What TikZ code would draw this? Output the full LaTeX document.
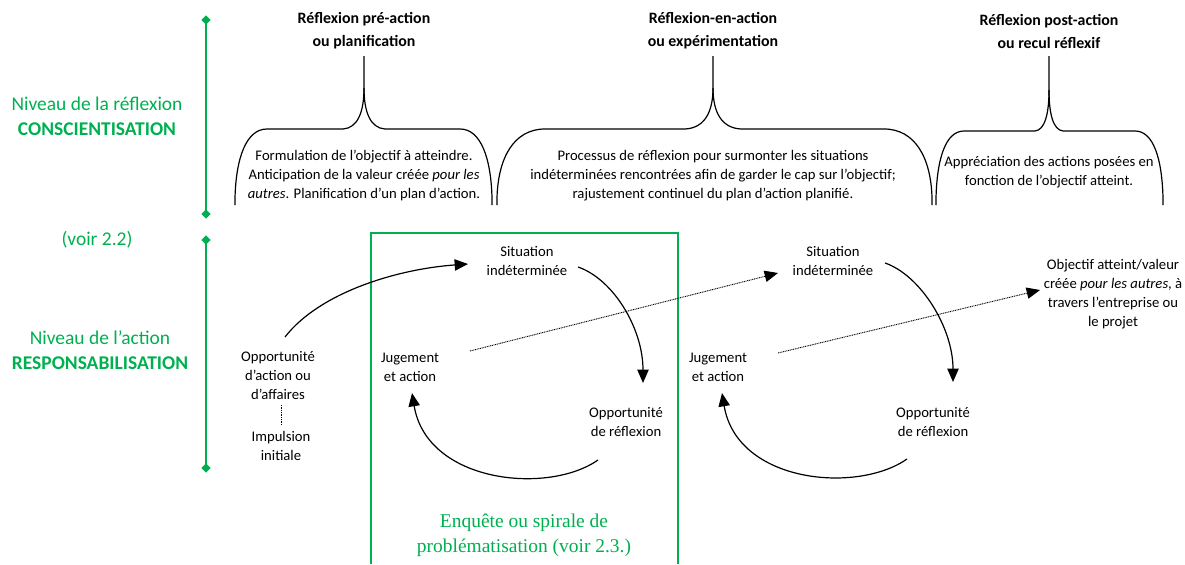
\documentclass[tikz,border=0pt]{standalone}
\usepackage{fontspec}
\setmainfont{Carlito}
\newfontfamily\captionserif{Liberation Serif}
\usetikzlibrary{arrows.meta,shapes.geometric,calc}
\definecolor{levelgreen}{HTML}{00B050}

% Upward curly brace: left x, tip x, right x, corner width, tip half width, bar y
\newcommand\upbrace[6]{%
  \draw[bracestroke] (#1,205) -- (#1,198) .. controls ({#1+1},158) and ({#1+0.35*#4},#6) .. ({#1+#4},#6)
     -- ({#2-#5},#6) .. controls ({#2-0.3*#5},{#6-1}) and (#2,{#6-17}) .. (#2,{#6-41}) -- (#2,56);
  \draw[bracestroke] (#3,205) -- (#3,198) .. controls ({#3-1},158) and ({#3-0.35*#4},#6) .. ({#3-#4},#6)
     -- ({#2+#5},#6) .. controls ({#2+0.3*#5},{#6-1}) and (#2,{#6-17}) .. (#2,{#6-41});
}

\begin{document}
\begin{tikzpicture}[x=0.75pt,y=-0.75pt,
  txt/.style={align=center,inner sep=0pt,font=\fontsize{11}{14.25}\selectfont},
  head/.style={align=center,inner sep=0pt,font=\bfseries\fontsize{11.9}{17.25}\selectfont},
  lvl/.style={align=center,inner sep=0pt,text=levelgreen,font=\fontsize{14.6}{18.75}\selectfont},
  gmark/.style={diamond,fill=levelgreen,inner sep=0pt,minimum size=7pt},
  gline/.style={draw=levelgreen,line width=1.2pt},
  bracestroke/.style={line width=0.9pt},
  flow/.style={line width=0.9pt,-{Triangle[length=10pt,width=8.5pt]}},
  link/.style={line width=0.7pt,dash pattern=on 0.7pt off 0.6pt,-{Triangle[length=10pt,width=8.5pt]}},
]
\useasboundingbox (0,0) rectangle (1185,564);

% level axis
\draw[gline] (206,20) -- (206,214);
\draw[gline] (206,240) -- (206,468);
\node[gmark] (m1) at (206,20) {};
\node[gmark] (m2) at (206,214) {};
\node[gmark] (m3) at (206,240) {};
\node[gmark] (m4) at (206,468) {};

\node[lvl] (lvlrefl) at (97,116) {Niveau de la réflexion\\\textbf{CONSCIENTISATION}};
\node[lvl] (voir) at (97,240) {(voir 2.2)};
\node[lvl] (lvlact) at (100,350) {Niveau de l’action\\\textbf{RESPONSABILISATION}};

% reflection phases
\node[head] (h1) at (364,31) {Réflexion pré-action\\ou planification};
\node[head] (h2) at (713,31) {Réflexion-en-action\\ou expérimentation};
\node[head] (h3) at (1049,31) {Réflexion post-action\\ou recul réflexif};

\upbrace{235}{364}{492}{32}{21}{129}
\upbrace{497}{713}{932}{48}{28}{129}
\upbrace{936}{1049}{1163}{28}{14}{131}

\node[txt] (t1) at (364,176) {Formulation de l’objectif à atteindre.\\Anticipation de la valeur créée \textit{pour les}\\\textit{autres}. Planification d’un plan d’action.};
\node[txt] (t2) at (713,176) {Processus de réflexion pour surmonter les situations\\indéterminées rencontrées afin de garder le cap sur l’objectif;\\rajustement continuel du plan d’action planifié.};
\node[txt] (t3) at (1049,172) {Appréciation des actions posées en\\fonction de l’objectif atteint.};

% inquiry frame
\draw[draw=levelgreen,line width=1pt] (371,564) -- (371,233) -- (678,233) -- (678,564);
\node[lvl,font=\captionserif\fontsize{14.6}{19}\selectfont] (enq) at (524,535) {Enquête ou spirale de\\problématisation (voir 2.3.)};

% action level
\node[txt] (opp0) at (278,376) {Opportunité\\d’action ou\\d’affaires};
\node[txt] (imp0) at (281,446) {Impulsion\\initiale};
\node[txt] (sit1) at (527,261) {Situation\\indéterminée};
\node[txt] (jug1) at (410,367) {Jugement\\et action};
\node[txt] (ref1) at (626,422) {Opportunité\\de réflexion};
\node[txt] (sit2) at (833,261) {Situation\\indéterminée};
\node[txt] (jug2) at (718,367) {Jugement\\et action};
\node[txt] (ref2) at (933,422) {Opportunité\\de réflexion};
\node[txt] (obj) at (1113,294) {Objectif atteint/valeur\\créée \textit{pour les autres}, à\\travers l’entreprise ou\\le projet};

\draw[line width=0.7pt,dash pattern=on 0.7pt off 0.6pt] ($(opp0)+(3,29)$) -- ($(imp0)+(0,-21)$);

\draw[flow] ($(opp0)+(7,-39)$) .. controls +(35,-45) and +(-70,5) .. ($(sit1)+(-59,3)$);
\draw[flow] ($(sit1)+(51,6)$) .. controls +(35,12) and +(0,-55) .. ($(ref1)+(17,-39)$);
\draw[flow] ($(ref1)+(-28,38)$) .. controls +(-50,35) and +(15,90) .. ($(jug1)+(2,26)$);
\draw[link] ($(jug1)+(60,-16)$) -- ($(sit2)+(-55,12)$);

\draw[flow] ($(sit2)+(52,2)$) .. controls +(35,12) and +(0,-55) .. ($(ref2)+(20,-40)$);
\draw[flow] ($(ref2)+(-26,37)$) .. controls +(-50,35) and +(15,90) .. ($(jug2)+(4,26)$);
\draw[link] ($(jug2)+(60,-14)$) -- ($(obj)+(-73,-4)$);
\end{tikzpicture}
\end{document}
